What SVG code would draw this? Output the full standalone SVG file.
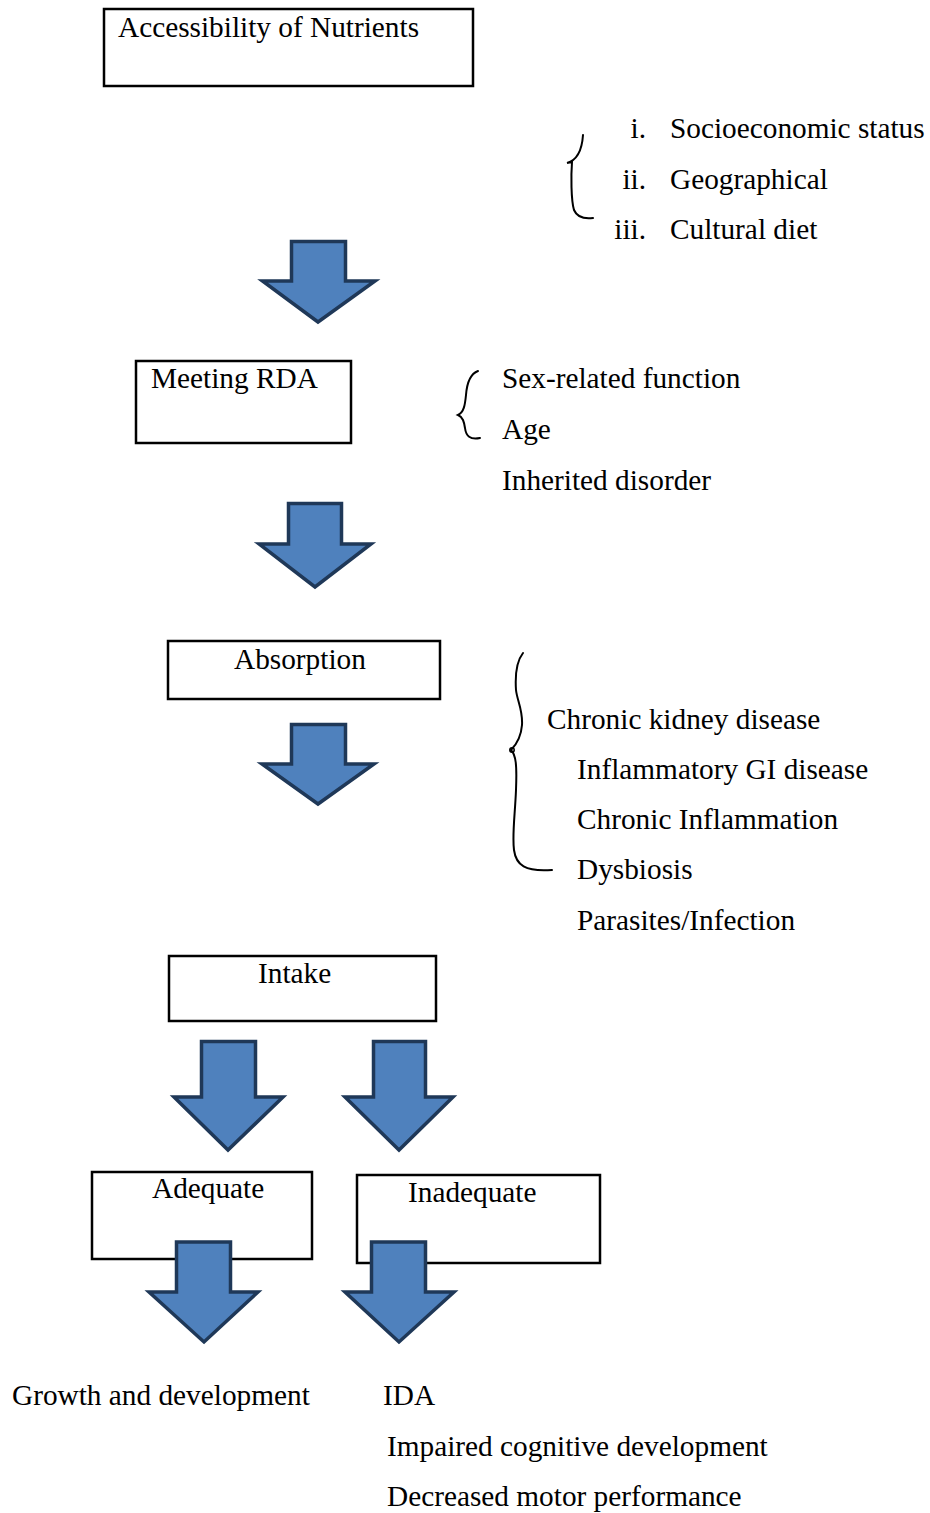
<svg xmlns="http://www.w3.org/2000/svg" width="930" height="1513" viewBox="0 0 930 1513">
<style>
text{font-family:"Liberation Serif","Times New Roman",serif;font-size:29.3px;fill:#000}
.box{fill:#fff;stroke:#000;stroke-width:2.5}
.arr{fill:#4F81BD;stroke:#1F3858;stroke-width:3.5;stroke-linejoin:miter}
.brace{fill:none;stroke:#000;stroke-width:2;stroke-linecap:round}
</style>
<rect width="930" height="1513" fill="#fff"/>
<g id="node-accessibility"><rect class="box" x="104" y="9" width="369" height="77"/><text x="118" y="37">Accessibility of Nutrients</text></g>
<g id="list-access">
<path class="brace" d="M583,135 C582,150 578,160 567,163 L572,162 C571,175 571,200 574,210 C577,217 585,219 593,218"/>
<text x="646" y="138" text-anchor="end">i.</text><text x="670" y="138">Socioeconomic status</text>
<text x="646" y="189" text-anchor="end">ii.</text><text x="670" y="189">Geographical</text>
<text x="646" y="239" text-anchor="end">iii.</text><text x="670" y="239">Cultural diet</text>
</g>
<g id="node-rda"><rect class="box" x="136" y="361" width="215" height="82"/><text x="151" y="388">Meeting RDA</text></g>
<g id="list-rda">
<path class="brace" d="M478,371 C470,374 467,382 466,395 C465,405 464,412 458,415 C463,417 464,422 465,428 C466,436 470,440 480,438"/>
<text x="502" y="388">Sex-related function</text>
<text x="502" y="439">Age</text>
<text x="502" y="490">Inherited disorder</text>
</g>
<g id="node-absorption"><rect class="box" x="168" y="641" width="272" height="58"/><text x="234" y="669">Absorption</text></g>
<g id="list-absorption">
<path class="brace" d="M523,653 C516,662 515,675 516,690 C517,700 523,710 522,725 C521,738 516,745 511,750 C516,755 517,765 516,790 C515,815 512,835 514,850 C516,865 525,872 552,870"/>
<circle cx="512" cy="750" r="2.2" fill="none" stroke="#000" stroke-width="1.5"/>
<text x="547" y="729">Chronic kidney disease</text>
<text x="577" y="779">Inflammatory GI disease</text>
<text x="577" y="829">Chronic Inflammation</text>
<text x="577" y="879">Dysbiosis</text>
<text x="577" y="930">Parasites/Infection</text>
</g>
<g id="node-intake"><rect class="box" x="169" y="956" width="267" height="65"/><text x="258" y="983">Intake</text></g>
<g id="node-adequate"><rect class="box" x="92" y="1172" width="220" height="87"/><text x="152" y="1198">Adequate</text></g>
<g id="node-inadequate"><rect class="box" x="357" y="1175" width="243" height="88"/><text x="408" y="1202">Inadequate</text></g>
<g id="connectors">
<polygon class="arr" points="291.5,241.5 345.5,241.5 345.5,281 375,281 318,322 262.5,281 291.5,281"/>
<polygon class="arr" points="288.5,503.5 341.5,503.5 341.5,544 371,544 315,587 259,544 288.5,544"/>
<polygon class="arr" points="291.5,724.5 345.5,724.5 345.5,764 374,764 318,804 262,764 291.5,764"/>
<polygon class="arr" points="201.5,1041.5 255.5,1041.5 255.5,1097 283,1097 228,1150 174,1097 201.5,1097"/>
<polygon class="arr" points="373.5,1041.5 425.5,1041.5 425.5,1097 453,1097 399,1150 345,1097 373.5,1097"/>
<polygon class="arr" points="176.5,1242 230.5,1242 230.5,1292 258,1292 204,1342 149,1292 176.5,1292"/>
<polygon class="arr" points="371.5,1242 425.5,1242 425.5,1292 454,1292 399,1342 345,1292 371.5,1292"/>
</g>
<g id="outcomes">
<text x="12" y="1405">Growth and development</text>
<text x="383" y="1405">IDA</text>
<text x="387" y="1456">Impaired cognitive development</text>
<text x="387" y="1506">Decreased motor performance</text>
</g>
</svg>
